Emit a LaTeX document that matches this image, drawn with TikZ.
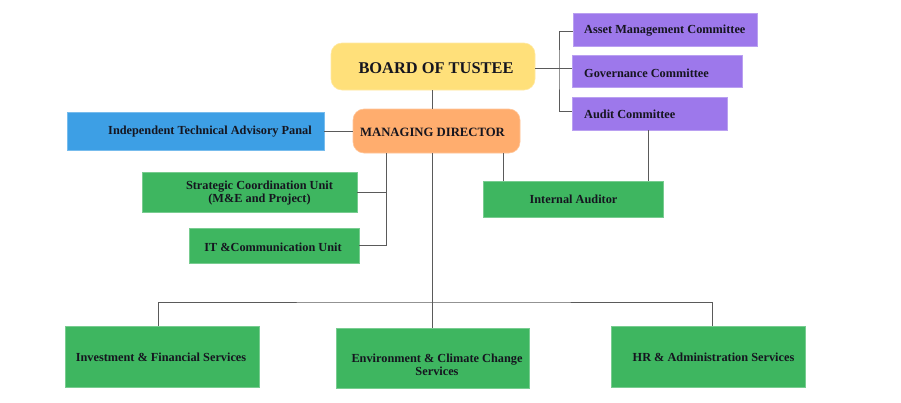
\documentclass[tikz,border=0pt]{standalone}
\usepackage{fontspec}
\setmainfont{Liberation Serif}
\definecolor{cyel}{HTML}{FFE07A}
\definecolor{cora}{HTML}{FFAD6E}
\definecolor{cpur}{HTML}{9D78EB}
\definecolor{cblu}{HTML}{3D9FE5}
\definecolor{cgrn}{HTML}{3EB660}
\definecolor{ctxt}{HTML}{15151F}
\definecolor{cline}{HTML}{5A5A5A}
\tikzset{
  box/.style={draw=#1!70!white, line width=0.6pt, fill=#1, inner sep=0pt},
  txt/.style={font=\bfseries\fontsize{12.3}{13.5}\selectfont, text=ctxt, inner sep=0pt, align=center},
  conn/.style={draw=cline, line width=0.9pt},
}
\begin{document}
\begin{tikzpicture}[x=1pt,y=-1pt]
\useasboundingbox[fill=white] (0,0) rectangle (901,402);
% connectors (drawn first, boxes on top)
\coordinate (brk) at (559,68);
\coordinate (mdl) at (386,153);
\coordinate (mdm) at (432,153);
\coordinate (mdr) at (503,153);
\coordinate (aud) at (648,130);
\coordinate (hub) at (432,302);
% boxes
\node[box=cyel, rounded corners=11pt, minimum width=204pt, minimum height=47pt] (board) at (433,66.5) {};
\node[box=cora, rounded corners=11pt, minimum width=167pt, minimum height=44pt] (md) at (436.5,131) {};
\node[box=cpur, minimum width=184pt, minimum height=33pt] (asset) at (665,29.5) {};
\node[box=cpur, minimum width=170pt, minimum height=32pt] (gov) at (657,71) {};
\node[box=cpur, minimum width=155pt, minimum height=33pt] (audit) at (649.5,113.5) {};
\node[box=cgrn, minimum width=180pt, minimum height=36pt] (ia) at (573,199) {};
\node[box=cblu, minimum width=257pt, minimum height=38pt] (itap) at (195.5,131) {};
\node[box=cgrn, minimum width=215pt, minimum height=40pt] (strat) at (249.5,192) {};
\node[box=cgrn, minimum width=170pt, minimum height=35pt] (it) at (274,245.5) {};
\node[box=cgrn, minimum width=194pt, minimum height=61pt] (inv) at (162,356.5) {};
\node[box=cgrn, minimum width=193pt, minimum height=60pt] (env) at (432.5,358) {};
\node[box=cgrn, minimum width=194pt, minimum height=61pt] (hr) at (708,356.5) {};
% connectors
\draw[conn] (board.south -| mdm) -- (md.north -| mdm);
\draw[conn] (board.east |- brk) -- (gov.west |- brk);
\draw[conn] (asset.west |- 0,31) -| (brk) |- (audit.west |- 0,111);
\draw[conn] (aud) -- (ia.north -| aud);
\draw[conn] (mdr) -- (ia.north -| mdr);
\draw[conn] (itap.east) -- (md.west);
\draw[conn] (mdl) |- (it.east);
\draw[conn] (strat.east) -- (strat.east -| mdl);
\draw[conn] (mdm) -- (env.north -| mdm);
\draw[conn] (inv.north -| 158,0) |- (hub) -| (hr.north -| 712,0);
% texts
\node[txt, font=\bfseries\fontsize{16.4}{18}\selectfont] (tboard) at (436,68) {BOARD OF TUSTEE};
\node[txt, font=\bfseries\fontsize{12.7}{14}\selectfont] (tmd) at (432.5,132) {MANAGING DIRECTOR};
\node[txt, anchor=west] (tasset) at (584,31) {Asset Management Committee};
\node[txt, anchor=west] (tgov) at (584,73) {Governance Committee};
\node[txt, anchor=west] (taudit) at (584,114) {Audit Committee};
\node[txt] (tia) at (573.5,199) {Internal Auditor};
\node[txt] (titap) at (210,132) {Independent Technical Advisory Panal};
\node[txt] (tstrat) at (259.5,193) {Strategic Coordination Unit\\(M\&E and Project)};
\node[txt] (tit) at (273,247) {IT \&Communication Unit};
\node[txt] (tinv) at (161,357) {Investment \& Financial Services};
\node[txt] (tenv) at (437,365) {Environment \& Climate Change\\Services};
\node[txt] (thr) at (713.5,357) {HR \& Administration Services};
\end{tikzpicture}
\end{document}
